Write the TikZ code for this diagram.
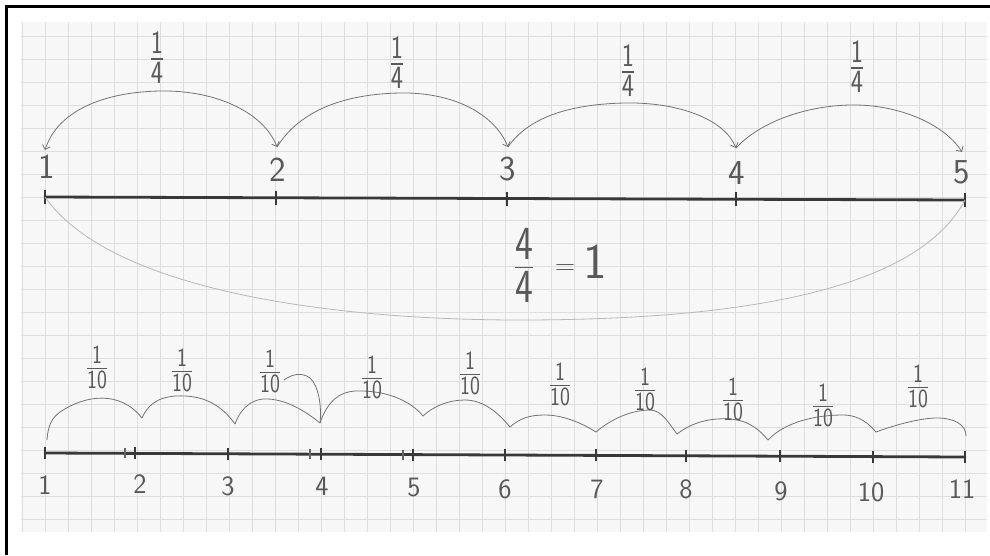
\documentclass[tikz,border=0pt]{standalone}
\usetikzlibrary{arrows.meta}
\setlength\arrayrulewidth{1pt}
\newcommand\hfrac[2]{\scalebox{1}[1.25]{\renewcommand\arraystretch{0.9}\begin{tabular}{@{}c@{}}#1\\[-0.12em]\hline\noalign{\vskip 0.08em}#2\end{tabular}}}
\begin{document}
\begin{tikzpicture}[x=1pt,y=-1pt,
  frameline/.style={line width=3pt,draw=black},
  gridline/.style={draw=black!13,line width=0.6pt},
  axis/.style={line width=2.8pt,draw=black!78,line cap=round},
  tickmark/.style={line width=2pt,draw=black!78},
  smalltick/.style={line width=1.2pt,draw=black!60},
  pencil/.style={draw=black!55,line width=0.8pt},
  faint/.style={draw=black!28,line width=0.8pt},
  barb/.style={-{Straight Barb[length=4pt,width=8pt,line width=0.8pt]}},
  bigdigit/.style={text=black!65,font=\sffamily\fontsize{35}{35}\selectfont,inner sep=0pt},
  smalldigit/.style={text=black!65,font=\sffamily\fontsize{28}{28}\selectfont,inner sep=0pt},
  topfrac/.style={text=black!65,font=\sffamily\fontsize{26}{26}\selectfont,inner sep=0pt},
  lowfrac/.style={text=black!65,font=\sffamily\fontsize{21}{21}\selectfont,inner sep=0pt},
  eqtext/.style={text=black!65,font=\sffamily\fontsize{38}{38}\selectfont,inner sep=0pt}
]
\useasboundingbox (0,0) rectangle (990,555);
% paper
\fill[black!3] (21,22) rectangle (987,532);
\foreach \k in {-1,...,40} \draw[gridline] ({45+23*\k},22) -- ({45+23*\k},532);
\foreach \k in {-7,...,14} \draw[gridline] (21,{197+23*\k}) -- (987,{197+23*\k});
% frame (top and left sides visible)
\draw[frameline] (990,6) -- (6,6) -- (6,555);

% ---------- top number line ----------
\coordinate (t1) at (45,197);
\coordinate (t2) at (276,197.7);
\coordinate (t3) at (507,198.5);
\coordinate (t4) at (736,199.2);
\coordinate (t5) at (965,200);
\draw[axis] (t1) -- (t5);
\foreach \i in {1,...,5} \draw[tickmark] ([yshift=7pt]t\i) -- ([yshift=-7pt]t\i);

\node[bigdigit] (l1) at (47,167) {1};
\node[bigdigit] (l2) at (278,170) {2};
\node[bigdigit] (l3) at (508,169) {3};
\node[bigdigit] (l4) at (737,173) {4};
\node[bigdigit] (l5) at (962,172) {5};

\coordinate (a1) at (45,150);
\coordinate (a2) at (277,147);
\coordinate (a3) at (508,147);
\coordinate (a4) at (736,148);
\coordinate (a5) at (962,152);
\coordinate (p1) at (160,91);
\coordinate (p2) at (400,93);
\coordinate (p3) at (625,103);
\coordinate (p4) at (850,105);

\draw[pencil,{Straight Barb[length=4pt,width=8pt,line width=0.8pt]}-{Straight Barb[length=4pt,width=8pt,line width=0.8pt]}]
  (a1) .. controls (58,110) and (105,92) .. (p1) .. controls (220,90) and (265,115) .. (a2);
\draw[pencil,barb] (a2) .. controls (300,110) and (345,94) .. (p2) .. controls (455,92) and (495,115) .. (a3);
\draw[pencil,barb] (a3) .. controls (530,115) and (575,104) .. (p3) .. controls (680,102) and (725,120) .. (a4);
\draw[pencil,barb] (a4) .. controls (760,122) and (805,106) .. (p4) .. controls (900,104) and (945,125) .. (a5);

\node[topfrac] (f1) at (157,62) {\hfrac{1}{4}};
\node[topfrac] (f2) at (397,67) {\hfrac{1}{4}};
\node[topfrac] (f3) at (628,75) {\hfrac{1}{4}};
\node[topfrac] (f4) at (857,71) {\hfrac{1}{4}};

% big lower arc
\coordinate (q) at (520,320);
\draw[faint] (t1) .. controls (110,290) and (330,320) .. (q) .. controls (760,320) and (920,285) .. (t5);
\node[eqtext] (eqf) at (524,272) {\hfrac{4}{4}};
\node[eqtext,font=\sffamily\fontsize{28}{28}\selectfont] (eqs) at (565,270) {=};
\node[eqtext,font=\sffamily\fontsize{50}{50}\selectfont] (eqo) at (595,262) {1};

% ---------- bottom number line ----------
\foreach \n/\x in {1/45,2/135,3/228,4/321,5/413,6/505,7/596,8/686,9/780,10/873,11/965}
  \coordinate (b\n) at (\x,{453+4*(\x-45)/920});
\draw[axis] (b1) -- (b11);
\foreach \n in {1,...,11} \draw[tickmark] ([yshift=6pt]b\n) -- ([yshift=-6pt]b\n);
\coordinate (e1) at (125,453.3);
\coordinate (e2) at (310,454.2);
\coordinate (e3) at (403,454.6);
\foreach \n in {1,2,3} \draw[smalltick] ([yshift=5pt]e\n) -- ([yshift=-5pt]e\n);

\foreach \n/\x/\y in {1/45/485,2/140/484,3/228/486,4/322/486,5/414/488,6/505/489,7/597/489,8/686/489,9/781/491,10/871/492,11/962/489}
  \node[smalldigit] (m\n) at (\x,\y) {\n};

% scallops
\coordinate (c0) at (47,440);
\coordinate (c1) at (142,418);
\coordinate (c2) at (235,424);
\coordinate (c3) at (320,423);
\coordinate (c4) at (423,416);
\coordinate (c5) at (510,427);
\coordinate (c6) at (596,432);
\coordinate (c7) at (677,434);
\coordinate (c8) at (768,440);
\coordinate (c9) at (876,432);
\coordinate (c10) at (966,436);
\draw[pencil] (c0) .. controls (48,425) and (52,418) .. (60,412) .. controls (85,395) and (120,390) .. (c1);
\draw[pencil] (c1) .. controls (150,400) and (165,395) .. (185,396) .. controls (210,397) and (225,410) .. (c2);
\draw[pencil] (c2) .. controls (242,405) and (255,398) .. (268,399) .. controls (290,400) and (310,415) .. (c3);
\draw[pencil] (c3) .. controls (322,405) and (318,385) .. (310,378) .. controls (302,372) and (292,374) .. (284,380);
\draw[pencil] (c3) .. controls (328,400) and (340,392) .. (355,391) .. controls (385,390) and (410,400) .. (c4);
\draw[pencil] (c4) .. controls (435,405) and (450,400) .. (465,400) .. controls (485,400) and (500,415) .. (c5);
\draw[pencil] (c5) .. controls (520,418) and (530,415) .. (545,415) .. controls (565,415) and (585,425) .. (c6);
\draw[pencil] (c6) .. controls (610,420) and (630,410) .. (650,410) .. controls (662,410) and (670,425) .. (c7);
\draw[pencil] (c7) .. controls (695,420) and (715,418) .. (730,419) .. controls (748,420) and (760,430) .. (c8);
\draw[pencil] (c8) .. controls (785,422) and (815,415) .. (843,415) .. controls (860,415) and (870,425) .. (c9);
\draw[pencil] (c9) .. controls (895,425) and (920,418) .. (937,418) .. controls (955,418) and (966,425) .. (c10);

\foreach \n/\x/\y in {1/97/371,2/182/374,3/270/375,4/372/381,5/470/377,6/560/388,7/645/393,8/733/403,9/823/409,10/918/390}
  \node[lowfrac] (g\n) at (\x,\y) {\hfrac{1}{10}};
\end{tikzpicture}
\end{document}
